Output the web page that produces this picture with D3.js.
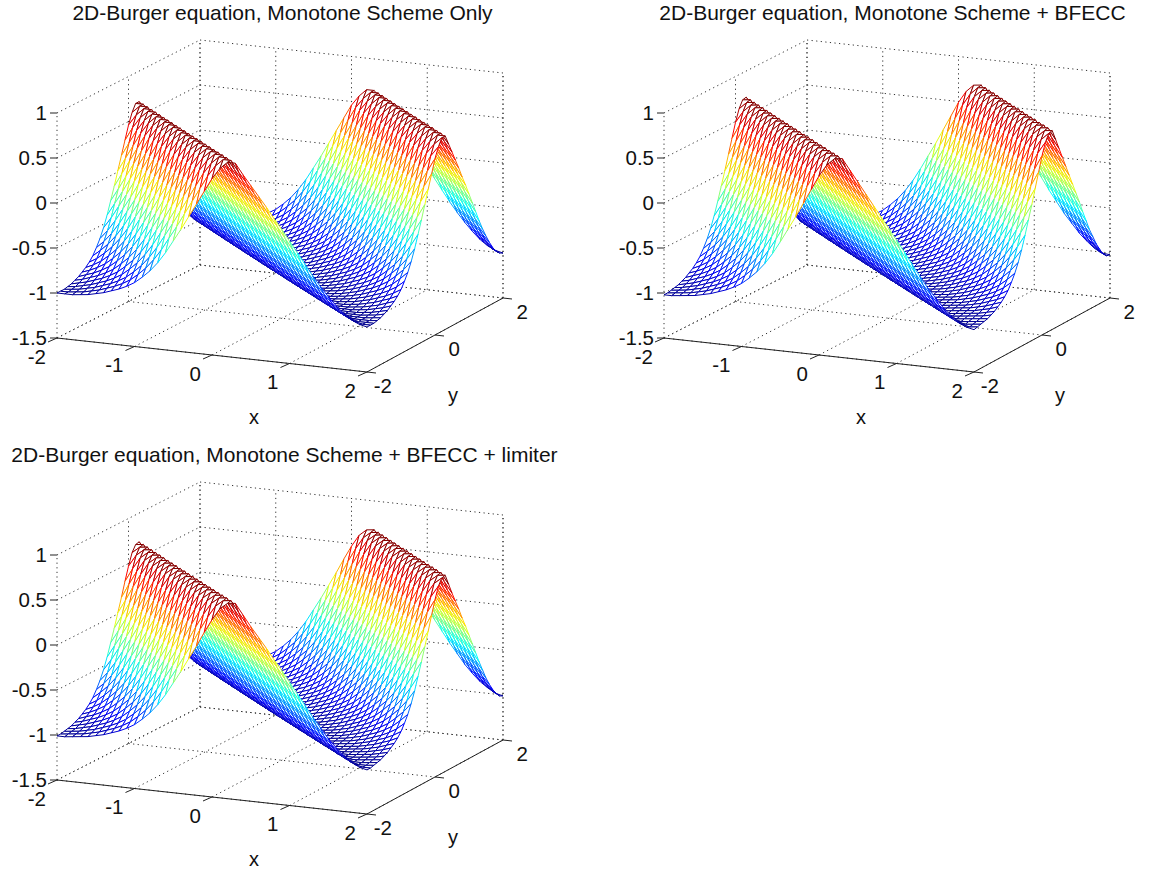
<!DOCTYPE html>
<html>
<head>
<meta charset="utf-8">
<script src="https://cdn.jsdelivr.net/npm/d3@7"></script>
<style>
  html, body { margin: 0; padding: 0; background: #fff; }
  svg { display: block; }
  text { font-family: "Liberation Sans", sans-serif; fill: #111; }
</style>
</head>
<body>
<svg width="1151" height="874"></svg>
<script>
// Tick labels
const xTicks = [-2, -1, 0, 1, 2];
const yTicks = [-2, 0, 2];
const zTicks = [-1.5, -1, -0.5, 0, 0.5, 1];

// Titles of the three panels
const titles = [
  "2D-Burger equation, Monotone Scheme Only",
  "2D-Burger equation, Monotone Scheme + BFECC",
  "2D-Burger equation, Monotone Scheme + BFECC + limiter"
];

// Mesh nodes along each axis
const xNodes = [-2,-1.9,-1.8,-1.7,-1.6,-1.5,-1.4,-1.3,-1.2,-1.1,-1,-0.9,-0.8,-0.7,-0.6,-0.5,-0.4,-0.3,-0.2,-0.1,0,
  0.1,0.2,0.3,0.4,0.5,0.6,0.7,0.8,0.9,1,1.1,1.2,1.3,1.4,1.5,1.6,1.7,1.8,1.9,2];
const yNodes = xNodes;

// Surface height, one value per mesh diagonal (x index + y index)
const zMonotone = [
  -1.00,-1.00,-1.00,-0.99,-0.98,-0.96,-0.94,-0.91,-0.88,-0.84,
  -0.79,-0.72,-0.64,-0.54,-0.42,-0.28,-0.14,0.01,0.16,0.31,
  0.46,0.58,0.66,0.66,0.54,0.43,0.32,0.21,0.09,-0.02,
  -0.14,-0.26,-0.38,-0.50,-0.61,-0.71,-0.80,-0.88,-0.94,-0.98,
  -1.00,-1.00,-1.00,-0.99,-0.98,-0.96,-0.94,-0.91,-0.88,-0.84,
  -0.79,-0.72,-0.64,-0.54,-0.42,-0.28,-0.14,0.01,0.16,0.31,
  0.46,0.57,0.65,0.65,0.54,0.43,0.32,0.21,0.09,-0.02,
  -0.14,-0.26,-0.38,-0.50,-0.61,-0.71,-0.80,-0.88,-0.94,-0.98,-1.00
];
const zBfecc = [
  -1.02,-1.02,-1.01,-1.00,-0.99,-0.97,-0.95,-0.92,-0.89,-0.85,
  -0.80,-0.73,-0.65,-0.55,-0.43,-0.29,-0.14,0.01,0.17,0.33,
  0.49,0.62,0.70,0.71,0.59,0.47,0.35,0.23,0.11,-0.01,
  -0.13,-0.25,-0.38,-0.50,-0.62,-0.72,-0.82,-0.90,-0.97,-1.01,
  -1.03,-1.02,-1.01,-1.00,-0.99,-0.97,-0.95,-0.92,-0.89,-0.85,
  -0.80,-0.73,-0.65,-0.55,-0.43,-0.29,-0.14,0.01,0.17,0.33,
  0.49,0.62,0.70,0.71,0.59,0.47,0.35,0.23,0.11,-0.01,
  -0.13,-0.25,-0.38,-0.50,-0.62,-0.72,-0.82,-0.90,-0.97,-1.01,-1.02
];
const zLimiter = [
  -1.01,-1.01,-1.00,-0.99,-0.98,-0.96,-0.94,-0.91,-0.88,-0.84,
  -0.79,-0.72,-0.64,-0.54,-0.42,-0.28,-0.14,0.01,0.16,0.32,
  0.47,0.60,0.67,0.68,0.56,0.44,0.33,0.22,0.10,-0.01,
  -0.13,-0.25,-0.37,-0.49,-0.60,-0.71,-0.80,-0.88,-0.94,-0.99,
  -1.01,-1.01,-1.00,-0.99,-0.98,-0.96,-0.94,-0.91,-0.88,-0.84,
  -0.79,-0.72,-0.64,-0.54,-0.42,-0.28,-0.14,0.01,0.16,0.32,
  0.47,0.60,0.67,0.68,0.56,0.44,0.33,0.22,0.10,-0.01,
  -0.13,-0.25,-0.37,-0.49,-0.60,-0.71,-0.80,-0.88,-0.94,-0.99,-1.01
];

// Panel placement
const panels = [
  { dx: 0,   dy: 0,   title: titles[0], titleX: 282.5, z: zMonotone },
  { dx: 607, dy: 0,   title: titles[1], titleX: 285.5, z: zBfecc },
  { dx: 0,   dy: 442, title: titles[2], titleX: 284.5, z: zLimiter }
];

// Floor corners on screen, the box is a slightly skewed parallelogram
const corner00 = [57, 338];   // x=-2, y=-2
const corner10 = [367, 372];  // x=2,  y=-2
const corner11 = [503, 298];  // x=2,  y=2
const corner01 = [200, 265];  // x=-2, y=2

const xScale = d3.scaleLinear().domain([-2, 2]).range([0, 1]);
const yScale = d3.scaleLinear().domain([-2, 2]).range([0, 1]);
const zScale = d3.scaleLinear().domain([-1.5, 1]).range([0, 225]);

function project(x, y, z) {
  var u = xScale(x), v = yScale(y);
  var px = (1-u)*(1-v)*corner00[0] + u*(1-v)*corner10[0] + u*v*corner11[0] + (1-u)*v*corner01[0];
  var py = (1-u)*(1-v)*corner00[1] + u*(1-v)*corner10[1] + u*v*corner11[1] + (1-u)*v*corner01[1];
  return [px, py - zScale(z)];
}

// Jet colormap stops
function jetScale(zs) {
  var lo = d3.min(zs), hi = d3.max(zs);
  return d3.scaleLinear()
    .domain([0, 0.125, 0.375, 0.625, 0.875, 1].map(function(t){ return lo + t*(hi-lo); }))
    .range(["#00008f", "#0000ff", "#00ffff", "#ffff00", "#ff0000", "#800000"])
    .clamp(true);
}

const line = d3.line();
const svg = d3.select("svg");

function segment(g, a, b) {
  g.append("path").attr("d", line([a, b])).attr("fill", "none");
}

function drawPanel(p) {
  var g = svg.append("g").attr("transform", "translate(" + p.dx + "," + p.dy + ")");
  var grid = g.append("g").attr("stroke", "#333").attr("stroke-width", 1).attr("stroke-dasharray", "1.2,3.4");

  // walls and floor, dotted
  zTicks.forEach(function(z){
    segment(grid, project(-2,-2,z), project(-2,2,z));
    segment(grid, project(-2,2,z), project(2,2,z));
  });
  xTicks.forEach(function(x){
    segment(grid, project(x,-2,-1.5), project(x,2,-1.5));
    segment(grid, project(x,2,-1.5), project(x,2,1));
  });
  yTicks.forEach(function(y){
    segment(grid, project(-2,y,-1.5), project(2,y,-1.5));
    segment(grid, project(-2,y,-1.5), project(-2,y,1));
  });
  segment(grid, project(2,2,-1.5), project(2,2,1));

  // mesh cells, far ones first so the white faces hide what is behind
  var color = jetScale(p.z);
  var cells = [];
  d3.range(xNodes.length - 1).forEach(function(i){
    d3.range(yNodes.length - 1).forEach(function(j){
      cells.push({ i: i, j: j });
    });
  });
  cells.sort(function(a, b){ return (b.j - b.i) - (a.j - a.i); });

  g.append("g").selectAll("path")
    .data(cells)
    .enter()
    .append("path")
    .attr("d", function(c){
      var i = c.i, j = c.j;
      return line([
        project(xNodes[i], yNodes[j], p.z[i+j]),
        project(xNodes[i+1], yNodes[j], p.z[i+j+1]),
        project(xNodes[i+1], yNodes[j+1], p.z[i+j+2]),
        project(xNodes[i], yNodes[j+1], p.z[i+j+1])
      ]) + "Z";
    })
    .attr("fill", "#fff")
    .attr("stroke-width", 1)
    .attr("stroke", function(c){ return color(p.z[c.i+c.j+1]); });

  // solid axis edges and tick marks
  var axes = g.append("g").attr("stroke", "#222").attr("stroke-width", 1);
  segment(axes, project(-2,-2,-1.5), project(2,-2,-1.5));
  segment(axes, project(2,-2,-1.5), project(2,2,-1.5));
  xTicks.forEach(function(x){
    var a = project(x,-2,-1.5);
    segment(axes, a, [a[0]-9, a[1]+4]);
  });
  yTicks.forEach(function(y){
    var a = project(2,y,-1.5);
    segment(axes, a, [a[0]+9, a[1]+1]);
  });
  zTicks.forEach(function(z){
    var a = project(-2,-2,z);
    segment(axes, a, [a[0]-7, a[1]]);
  });

  // tick labels
  var labels = g.append("g").attr("font-size", 20.5);
  zTicks.forEach(function(z){
    var a = project(-2,-2,z);
    labels.append("text").attr("x", a[0]-10).attr("y", a[1]+7).attr("text-anchor", "end").text(z);
  });
  xTicks.forEach(function(x){
    var a = project(x,-2,-1.5);
    labels.append("text").attr("x", a[0]-11).attr("y", a[1]+25.5).attr("text-anchor", "end").text(x);
  });
  yTicks.forEach(function(y){
    var a = project(2,y,-1.5);
    labels.append("text").attr("x", a[0]+25).attr("y", a[1]+21).attr("text-anchor", "end").text(y);
  });

  g.append("text").attr("x", 254).attr("y", 424).attr("font-size", 20).attr("text-anchor", "middle").text("x");
  g.append("text").attr("x", 453).attr("y", 402).attr("font-size", 20).attr("text-anchor", "middle").text("y");

  g.append("text")
    .attr("x", p.titleX).attr("y", 20)
    .attr("font-size", 21)
    .attr("text-anchor", "middle")
    .text(p.title);
}

panels.forEach(drawPanel);
</script>
</body>
</html>
